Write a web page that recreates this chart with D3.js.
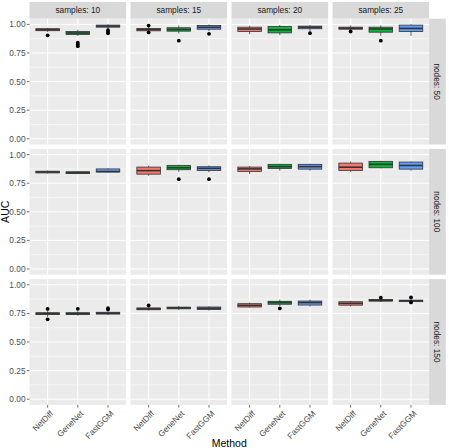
<!DOCTYPE html>
<html>
<head>
<meta charset="utf-8">
<script src="https://cdn.jsdelivr.net/npm/d3@7"></script>
<style>
  body { margin: 0; background: #fff; }
  text { font-family: "Liberation Sans", Arial, sans-serif; }
</style>
</head>
<body>
<div id="chart"></div>
<script>
// facets
const samples = [10, 15, 20, 25];
const nodes = [50, 100, 150];
const methods = ['NetDiff', 'GeneNet', 'FastGGM'];
const yTicks = [0, 0.25, 0.5, 0.75, 1];
const yMinor = [0.125, 0.375, 0.625, 0.875];

// box stats [lowWhisker, q1, median, q3, highWhisker], one row per samples column
const boxes50 = [
  [[0.935, 0.945, 0.955, 0.962, 0.97], [0.9, 0.912, 0.925, 0.938, 0.953], [0.96, 0.976, 0.985, 0.994, 1.0]],
  [[0.94, 0.944, 0.955, 0.965, 0.975], [0.92, 0.941, 0.955, 0.971, 0.99], [0.94, 0.958, 0.975, 0.991, 1.0]],
  [[0.914, 0.938, 0.96, 0.976, 0.988], [0.906, 0.926, 0.953, 0.982, 0.994], [0.94, 0.962, 0.975, 0.985, 0.995]],
  [[0.95, 0.958, 0.967, 0.976, 0.99], [0.9, 0.932, 0.96, 0.976, 0.99], [0.9, 0.938, 0.965, 0.994, 1.0]]
];
const boxes100 = [
  [[0.835, 0.84, 0.848, 0.855, 0.86], [0.83, 0.834, 0.842, 0.85, 0.855], [0.845, 0.848, 0.852, 0.875, 0.88]],
  [[0.815, 0.829, 0.86, 0.891, 0.903], [0.85, 0.868, 0.885, 0.906, 0.912], [0.845, 0.861, 0.88, 0.894, 0.905]],
  [[0.83, 0.853, 0.875, 0.891, 0.9], [0.86, 0.879, 0.895, 0.915, 0.92], [0.86, 0.873, 0.895, 0.915, 0.92]],
  [[0.85, 0.861, 0.89, 0.926, 0.94], [0.88, 0.885, 0.915, 0.941, 0.945], [0.86, 0.873, 0.905, 0.935, 0.94]]
];
const boxes150 = [
  [[0.72, 0.74, 0.748, 0.756, 0.77], [0.73, 0.74, 0.748, 0.756, 0.77], [0.735, 0.744, 0.752, 0.76, 0.77]],
  [[0.775, 0.782, 0.79, 0.798, 0.805], [0.78, 0.79, 0.798, 0.805, 0.815], [0.775, 0.785, 0.795, 0.806, 0.812]],
  [[0.8, 0.806, 0.82, 0.835, 0.845], [0.815, 0.83, 0.845, 0.856, 0.87], [0.81, 0.823, 0.845, 0.858, 0.87]],
  [[0.81, 0.822, 0.838, 0.852, 0.86], [0.85, 0.857, 0.865, 0.872, 0.875], [0.85, 0.853, 0.86, 0.866, 0.875]]
];

// outliers, same layout as above
const outliers50 = [
  [[0.905], [0.84, 0.825, 0.81], [0.95, 0.935, 0.922]],
  [[0.99, 0.93], [0.858], [0.918]],
  [[], [], [0.923]],
  [[0.938], [0.858], []]
];
const outliers100 = [
  [[], [], []],
  [[], [0.785], [0.785]],
  [[], [], []],
  [[], [], []]
];
const outliers150 = [
  [[0.789, 0.698], [0.79], [0.795, 0.785]],
  [[0.82], [], []],
  [[], [0.794], []],
  [[], [0.887], [0.89, 0.846]]
];

const fills = ['#F8766D', '#00BA38', '#619CFF'];

let width = 449,
  height = 448,
  padL = 29.5,
  padT = 2,
  stripH = 16.7,
  gap = 4.4,
  pw = 96.6,
  ph = 125.8,
  svg = d3.select('#chart').append('svg')
    .attr('width', width)
    .attr('height', height);

let boxRows = [boxes50, boxes100, boxes150];
let outRows = [outliers50, outliers100, outliers150];

let x = d3.scalePoint().domain(methods).range([0, pw]).padding(0.6);
let y = d3.scaleLinear().domain([-0.05, 1.05]).range([ph, 0]);
let bw = x.step() * 0.78;

let panelX = (c) => padL + c * (pw + gap);
let panelY = (r) => padT + stripH + r * (ph + gap);

// top strips
samples.forEach((s, c) => {
  svg.append('rect')
    .attr('x', panelX(c)).attr('y', padT)
    .attr('width', pw).attr('height', stripH)
    .attr('fill', '#D9D9D9');
  svg.append('text')
    .attr('x', panelX(c) + pw / 2).attr('y', padT + stripH / 2 + 3)
    .attr('text-anchor', 'middle')
    .attr('font-size', 8.3).attr('fill', '#1A1A1A')
    .text('samples: ' + s);
});

// right strips
nodes.forEach((n, r) => {
  let sx = panelX(3) + pw;
  svg.append('rect')
    .attr('x', sx).attr('y', panelY(r))
    .attr('width', stripH).attr('height', ph)
    .attr('fill', '#D9D9D9');
  svg.append('text')
    .attr('transform', 'translate(' + (sx + stripH / 2 - 3) + ',' + (panelY(r) + ph / 2) + ') rotate(90)')
    .attr('text-anchor', 'middle')
    .attr('font-size', 8.3).attr('fill', '#1A1A1A')
    .text('nodes: ' + n);
});

nodes.forEach((n, r) => {
  samples.forEach((s, c) => {
    let g = svg.append('g')
      .attr('transform', 'translate(' + panelX(c) + ',' + panelY(r) + ')');

    g.append('rect')
      .attr('width', pw).attr('height', ph)
      .attr('fill', '#EBEBEB');

    g.selectAll('line.minor')
      .data(yMinor)
      .enter().append('line')
      .attr('x1', 0).attr('x2', pw)
      .attr('y1', (d) => y(d)).attr('y2', (d) => y(d))
      .style('stroke', '#fff').style('stroke-width', '0.5px');

    g.selectAll('line.major')
      .data(yTicks)
      .enter().append('line')
      .attr('x1', 0).attr('x2', pw)
      .attr('y1', (d) => y(d)).attr('y2', (d) => y(d))
      .style('stroke', '#fff').style('stroke-width', '1px');

    g.selectAll('line.vmajor')
      .data(methods)
      .enter().append('line')
      .attr('x1', (d) => x(d)).attr('x2', (d) => x(d))
      .attr('y1', 0).attr('y2', ph)
      .style('stroke', '#fff').style('stroke-width', '1px');

    let stats = boxRows[r][c];
    let outs = outRows[r][c];

    // boxes
    let b = g.selectAll('g.box')
      .data(methods)
      .enter().append('g')
      .attr('transform', (d) => 'translate(' + x(d) + ',0)');

    b.append('line')
      .attr('x1', 0).attr('x2', 0)
      .attr('y1', (d, i) => y(stats[i][0]))
      .attr('y2', (d, i) => y(stats[i][4]))
      .style('stroke', '#333').style('stroke-width', '0.8px');

    b.append('rect')
      .attr('x', -bw / 2).attr('width', bw)
      .attr('y', (d, i) => y(Math.max(stats[i][3], stats[i][1])))
      .attr('height', (d, i) => Math.abs(y(stats[i][1]) - y(stats[i][3])))
      .attr('fill', (d, i) => fills[i])
      .style('stroke', '#333').style('stroke-width', '0.8px');

    b.append('line')
      .attr('x1', -bw / 2).attr('x2', bw / 2)
      .attr('y1', (d, i) => y(stats[i][2]))
      .attr('y2', (d, i) => y(stats[i][2]))
      .style('stroke', '#333').style('stroke-width', '1.6px');

    b.selectAll('circle')
      .data((d, i) => outs[i])
      .enter().append('circle')
      .attr('cx', 0)
      .attr('cy', (d) => y(d))
      .attr('r', 1.9)
      .attr('fill', '#000');

    // y axis on first column
    if (c === 0) {
      let ax = g.append('g');
      ax.selectAll('line')
        .data(yTicks)
        .enter().append('line')
        .attr('x1', -2.7).attr('x2', 0)
        .attr('y1', (d) => y(d)).attr('y2', (d) => y(d))
        .style('stroke', '#333').style('stroke-width', '0.7px');
      ax.selectAll('text')
        .data(yTicks)
        .enter().append('text')
        .attr('x', -4).attr('y', (d) => y(d) + 3)
        .attr('text-anchor', 'end')
        .attr('font-size', 8.3).attr('fill', '#4D4D4D')
        .text((d) => d3.format('.2f')(d));
    }

    // x axis on last row
    if (r === nodes.length - 1) {
      let ax = g.append('g').attr('transform', 'translate(0,' + ph + ')');
      ax.selectAll('line')
        .data(methods)
        .enter().append('line')
        .attr('x1', (d) => x(d)).attr('x2', (d) => x(d))
        .attr('y1', 0).attr('y2', 2.7)
        .style('stroke', '#333').style('stroke-width', '0.7px');
      ax.selectAll('text')
        .data(methods)
        .enter().append('text')
        .attr('transform', (d) => 'translate(' + (x(d) + 2) + ',5) rotate(-45)')
        .attr('text-anchor', 'end')
        .attr('dy', '0.7em')
        .attr('font-size', 8.3).attr('fill', '#4D4D4D')
        .text((d) => d);
    }
  });
});

// axis titles
let midX = padL + (4 * pw + 3 * gap) / 2;
let midY = padT + stripH + (3 * ph + 2 * gap) / 2;
svg.append('text')
  .attr('x', midX).attr('y', height - 1)
  .attr('text-anchor', 'middle')
  .attr('font-size', 10.5).attr('fill', '#000')
  .text('Method');
svg.append('text')
  .attr('transform', 'translate(9,' + midY + ') rotate(-90)')
  .attr('text-anchor', 'middle')
  .attr('font-size', 10.5).attr('fill', '#000')
  .text('AUC');
</script>
</body>
</html>
